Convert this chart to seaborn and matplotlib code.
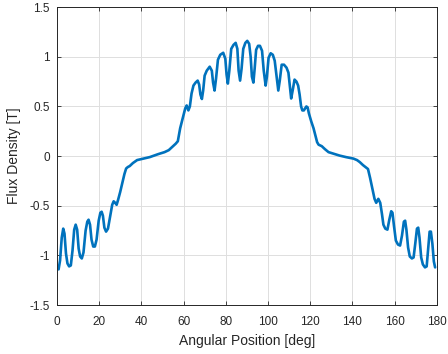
import matplotlib
matplotlib.use("Agg")
import matplotlib.pyplot as plt
import seaborn as sns
import pandas as pd

# Angular position [deg] and flux density [T]
angle = [0.8, 1.5, 2.3, 3.0, 3.6, 4.3, 5.0, 5.8, 6.6, 7.4, 8.2, 8.9, 9.6, 10.3, 11.0, 11.8,
         12.6, 13.6, 14.4, 15.0, 15.7, 16.4, 17.2, 18.0, 18.8, 19.8, 20.6, 21.2, 21.8, 22.5,
         23.3, 24.2, 25.3, 26.2, 26.9, 27.6, 28.3, 29.0, 30.0, 31.0, 32.0, 32.8, 33.6, 34.5,
         36.0, 38.0, 40.0, 44.0, 48.0, 51.0, 53.0, 55.0, 56.3, 57.3, 58.4, 59.6, 60.8, 61.5,
         62.3, 63.0, 63.8, 64.7, 65.7, 66.7, 67.4, 68.0, 68.7, 69.3, 70.0, 71.0, 72.4, 73.4,
         74.0, 74.7, 75.4, 76.3, 77.4, 78.8, 79.8, 80.4, 81.0, 81.7, 82.6, 83.7, 84.7, 85.5,
         86.1, 86.8, 87.5, 88.3, 89.3, 90.2, 91.1, 91.8, 92.4, 93.1, 93.7, 94.4, 95.3, 96.2,
         97.2, 98.0, 98.9, 99.5, 100.3, 101.3, 102.3, 103.2, 104.0, 104.9, 105.6, 106.5, 107.6,
         108.8, 109.7, 110.4, 111.0, 111.7, 112.6, 113.5, 114.3, 115.0, 115.7, 116.3, 117.0,
         118.2, 118.8, 119.4, 120.5, 121.6, 122.6, 123.3, 124.0, 125.5, 127.0, 128.7, 131.0,
         134.0, 137.0, 140.5, 142.2, 143.5, 145.0, 146.2, 147.4, 148.4, 149.5, 150.5, 151.3,
         152.3, 153.2, 154.0, 154.7, 155.6, 156.6, 157.5, 158.4, 159.0, 159.7, 160.6, 161.6,
         162.6, 163.5, 164.4, 165.0, 165.6, 166.4, 167.2, 168.2, 169.0, 169.8, 170.6, 171.2,
         171.8, 172.6, 173.4, 174.4, 175.2, 175.9, 176.6, 177.2, 177.9, 178.6, 179.2]
flux = [-1.14, -1.05, -0.82, -0.73, -0.78, -0.98, -1.08, -1.11, -1.10, -0.95, -0.74, -0.69,
        -0.74, -0.93, -1.01, -1.03, -0.97, -0.75, -0.66, -0.64, -0.69, -0.84, -0.91, -0.91,
        -0.84, -0.65, -0.57, -0.56, -0.60, -0.72, -0.76, -0.73, -0.60, -0.49, -0.455, -0.47,
        -0.49, -0.44, -0.36, -0.27, -0.18, -0.125, -0.11, -0.10, -0.07, -0.04, -0.03, -0.01,
        0.02, 0.04, 0.06, 0.10, 0.125, 0.15, 0.28, 0.38, 0.48, 0.51, 0.46, 0.50, 0.63, 0.71,
        0.74, 0.76, 0.72, 0.62, 0.575, 0.66, 0.81, 0.86, 0.90, 0.86, 0.74, 0.66, 0.78, 0.97,
        1.02, 1.04, 0.98, 0.82, 0.73, 0.86, 1.08, 1.12, 1.14, 1.08, 0.86, 0.76, 0.88, 1.08,
        1.14, 1.16, 1.13, 1.00, 0.80, 0.74, 0.88, 1.07, 1.11, 1.11, 1.06, 0.86, 0.71, 0.80,
        0.99, 1.035, 1.02, 0.96, 0.82, 0.66, 0.76, 0.92, 0.92, 0.89, 0.84, 0.70, 0.58, 0.66,
        0.77, 0.75, 0.71, 0.62, 0.50, 0.46, 0.46, 0.50, 0.49, 0.43, 0.35, 0.28, 0.20, 0.14,
        0.115, 0.10, 0.07, 0.04, 0.025, 0.005, -0.01, -0.025, -0.04, -0.06, -0.09, -0.11,
        -0.13, -0.22, -0.33, -0.43, -0.47, -0.43, -0.47, -0.58, -0.69, -0.73, -0.74, -0.64,
        -0.555, -0.57, -0.70, -0.85, -0.89, -0.90, -0.80, -0.66, -0.65, -0.74, -0.92, -1.01,
        -1.03, -1.02, -0.88, -0.73, -0.72, -0.82, -1.02, -1.09, -1.12, -1.11, -0.94, -0.76,
        -0.76, -0.88, -1.06, -1.12]

x_ticks = [0, 20, 40, 60, 80, 100, 120, 140, 160, 180]
y_ticks = [-1.5, -1, -0.5, 0, 0.5, 1, 1.5]
y_tick_labels = ["-1.5", "-1", "-0.5", "0", "0.5", "1", "1.5"]

sns.set_style("whitegrid")
plt.rcParams["font.family"] = ["Liberation Sans", "DejaVu Sans"]

df = pd.DataFrame({"angle": angle, "flux": flux})

fig = plt.figure(figsize=(4.48, 3.54), dpi=100)
ax = fig.add_axes([0.127, 0.138, 0.848, 0.842])
sns.lineplot(data=df, x="angle", y="flux", sort=False, estimator=None,
             color="#0072BD", linewidth=1.9, ax=ax)

ax.set_xlim(0, 180)
ax.set_ylim(-1.5, 1.5)
ax.set_xticks(x_ticks)
ax.set_xticklabels([str(t) for t in x_ticks])
ax.set_yticks(y_ticks)
ax.set_yticklabels(y_tick_labels)
ax.set_xlabel("Angular Position [deg]", fontsize=10, color="#262626", labelpad=4)
ax.set_ylabel("Flux Density [T]", fontsize=10, color="#262626", labelpad=6)

ax.grid(True, color="#dedede", linewidth=0.7)
for s in ax.spines.values():
    s.set_visible(True)
    s.set_color("#262626")
    s.set_linewidth(0.7)
ax.tick_params(axis="both", which="both", direction="in", length=3, width=0.6,
               color="#262626", labelcolor="#262626", labelsize=8.5,
               top=True, right=True, bottom=True, left=True)
ax.tick_params(axis="x", pad=8)
ax.tick_params(axis="y", pad=5)

fig.savefig("out.png", dpi=100)
